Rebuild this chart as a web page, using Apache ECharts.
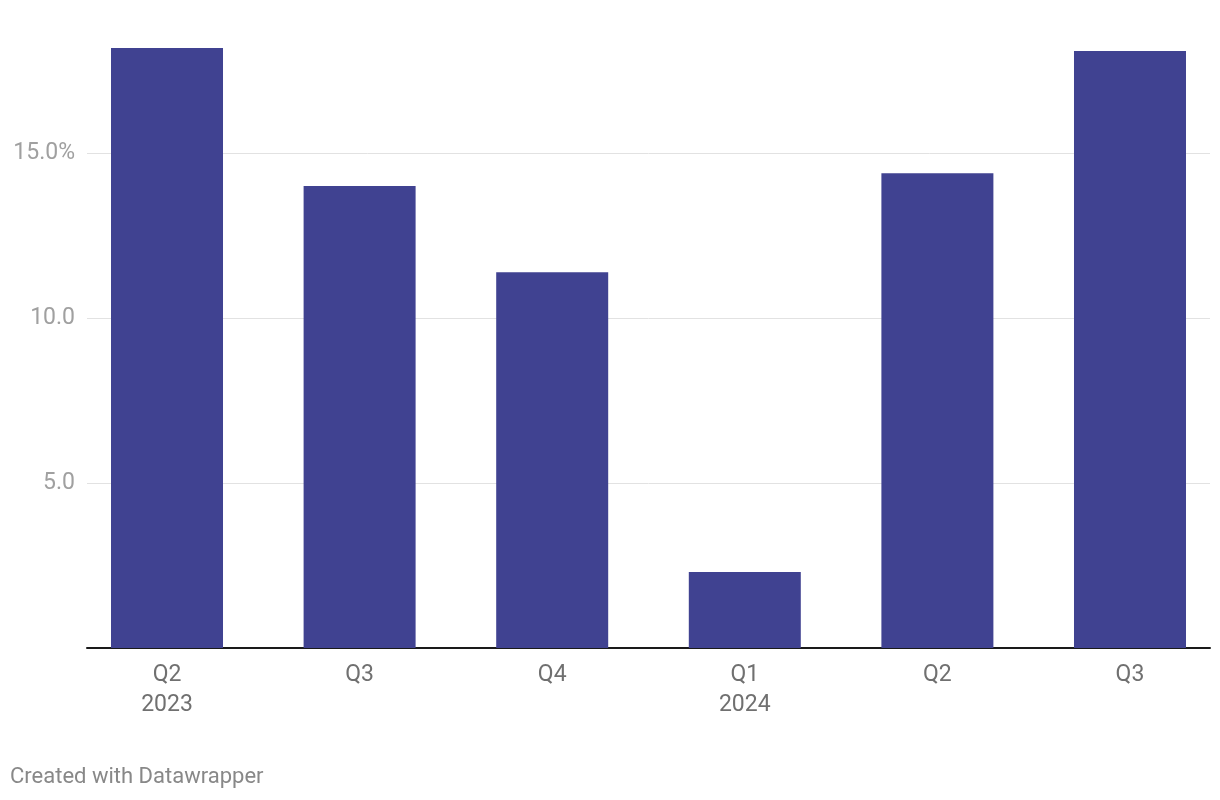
<!DOCTYPE html>
<html>
<head>
<meta charset="utf-8">
<script src="https://cdn.jsdelivr.net/npm/echarts@6/dist/echarts.min.js"></script>
<style>
html,body{margin:0;padding:0;background:#fff;}
#chart{width:1220px;height:800px;}
</style>
</head>
<body>
<div id="chart"></div>
<script>
var categories = ['Q2\n2023', 'Q3', 'Q4', 'Q1\n2024', 'Q2', 'Q3'];
var values = [18.18, 14.0, 11.39, 2.30, 14.39, 18.09];
var yTicks = [0, 5, 10, 15];

var chart = echarts.init(document.getElementById('chart'));
var font = 'Roboto, "Noto Sans", sans-serif';
var catIdx = categories.map(function (c, i) { return i; });
chart.setOption({
  animation: false,
  title: {
    text: 'Created with Datawrapper',
    left: 5, top: 761,
    textStyle: {fontFamily: font, fontSize: 22, fontWeight: 'normal', color: '#888'}
  },
  grid: {left: 87, right: 10, top: 37.5, bottom: 152},
  xAxis: {
    type: 'value', min: -0.4154, max: 5.4154,
    axisLine: {show: true, onZero: false, lineStyle: {color: '#1a1a1a', width: 2}},
    axisTick: {show: false}, splitLine: {show: false},
    axisLabel: {
      customValues: catIdx,
      fontFamily: font, fontSize: 23, color: '#707070', lineHeight: 30, margin: 12,
      formatter: function (v) { return categories[Math.round(v)]; }
    }
  },
  yAxis: {
    type: 'value', min: 0, max: 18.5, interval: 5,
    axisLine: {show: false}, axisTick: {show: false},
    splitLine: {show: true, showMaxLine: false, showMinLine: false,
                lineStyle: {color: '#e2e2e2', width: 1}},
    axisLabel: {fontFamily: font, fontSize: 23, color: '#a0a0a0', margin: 12,
      formatter: function (v) {
        if (yTicks.indexOf(v) < 0 || v === 0) return '';
        return v === 15 ? v.toFixed(1) + '%' : v.toFixed(1);
      }}
  },
  series: [
    {type: 'bar', data: values.map(function (v, i) { return [i, v]; }), barWidth: 112,
     itemStyle: {color: '#404291'}, z: 1}
  ]
});
</script>
</body>
</html>
